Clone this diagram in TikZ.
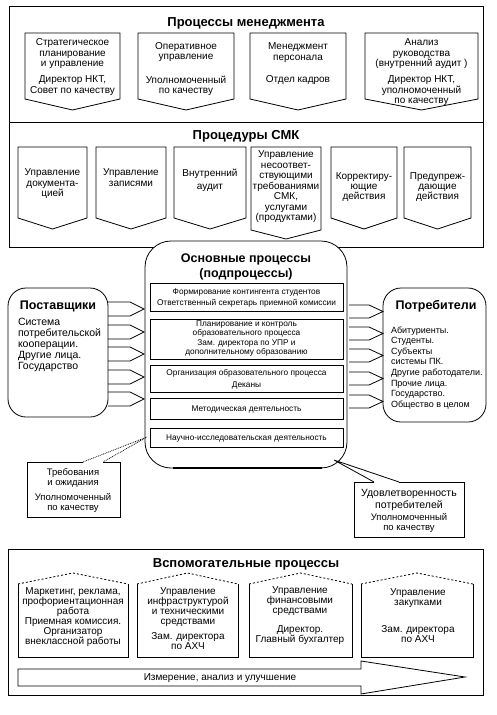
\documentclass[tikz,border=0pt]{standalone}
\usepackage{fontspec}
\setmainfont{Liberation Sans}
\usetikzlibrary{calc}
\newcommand{\dpent}[5]{%
  \draw[ln,fill=white] (#1,#3) -- (#2,#3) -- (#2,#4) -- ({(#1+#2)/2},#5) -- (#1,#4) -- cycle;}
\newcommand{\uhouse}[5]{%
  \draw[ln] (#1,#4) -- (#1,#5) -- (#2,#5) -- (#2,#4);
  \draw[roof] (#1,#4) -- ({(#1+#2)/2},#3) -- (#2,#4);}
\begin{document}
\begin{tikzpicture}[x=1pt,y=-1pt,
  every node/.style={inner sep=0pt,outer sep=0pt},
  ln/.style={draw=black,line width=0.8pt},
  roof/.style={draw=black,line width=0.8pt,dash pattern=on 2pt off 2pt},
  ttl/.style={font=\fontsize{13}{15}\selectfont\bfseries,anchor=base},
  sttl/.style={font=\fontsize{12.5}{15}\selectfont\bfseries,align=center},
  bx/.style={font=\fontsize{10}{10.5}\selectfont,align=center,anchor=north},
  inr/.style={font=\fontsize{8.3}{9.5}\selectfont,align=center,anchor=north},
  blk/.style={draw=black,line width=0.8pt}]
\useasboundingbox (0,0) rectangle (496,715);
\fill[white] (0,0) rectangle (496,715);

% ---------------- management
\draw[ln] (9,6) rectangle (483,122);
\node[ttl] (mt) at (246,26.7) {Процессы менеджмента};
\dpent{25}{120}{33}{99}{110}
\dpent{138}{234}{33}{99}{110}
\dpent{250}{346}{33}{99}{110}
\dpent{365}{478}{33}{99}{110}
\node[bx] (m1a) at (72.5,39) {Стратегическое\\планирование\\и управление};
\node[bx] (m1b) at (72.5,76) {Директор НКТ,\\Совет по качеству};
\node[bx] (m2a) at (186,42.5) {Оперативное\\управление};
\node[bx] (m2b) at (186,76) {Уполномоченный\\по качеству};
\node[bx] (m3a) at (298,43) {Менеджмент\\персонала};
\node[bx] (m3b) at (298,76) {Отдел кадров};
\node[bx] (m4a) at (421.5,39) {Анализ\\руководства\\(внутренний аудит )};
\node[bx] (m4b) at (421.5,76) {Директор НКТ,\\уполномоченный\\по качеству};

% ---------------- SMK procedures
\draw[ln] (9,122) rectangle (483,247);
\node[ttl] (st) at (246,139.7) {Процедуры СМК};
\dpent{18}{87}{147}{218}{229}
\dpent{96}{166}{147}{218}{229}
\dpent{174}{246}{147}{218}{229}
\dpent{251}{321}{147}{230}{239}
\dpent{331}{397}{147}{218}{229}
\dpent{404}{471}{147}{218}{229}
\node[bx] (s1) at (52.5,169) {Управление\\документа-\\цией};
\node[bx] (s2) at (131,169) {Управление\\записями};
\node[bx,font=\fontsize{10}{13}\selectfont] (s3) at (210,169) {Внутренний\\аудит};
\node[bx] (s4) at (286,151) {Управление\\несоответ-\\ствующими\\требованиями\\СМК,\\услугами\\(продуктами)};
\node[bx,font=\fontsize{10}{9.6}\selectfont] (s5) at (364,173) {Корректиру-\\ющие\\действия};
\node[bx,font=\fontsize{10}{9.6}\selectfont] (s6) at (437.5,173) {Предупреж-\\дающие\\действия};

% ---------------- main processes
\node[ln,fill=white,rounded corners=26pt,minimum width=202pt,minimum height=227pt] (main) at (246,354.5) {};
\draw[line width=1.8pt] (173,468) -- (322,468);
\node[sttl,anchor=north] (mainT) at (246,253.5) {Основные процессы\\(подпроцессы)};
\draw[ln] (150,283) rectangle (343,311);
\draw[ln] (150,319) rectangle (343,359);
\draw[ln] (150,365) rectangle (343,392);
\draw[ln] (150,398) rectangle (343,419);
\draw[ln] (150,428) rectangle (343,447);
\node[inr,font=\fontsize{8.3}{11}\selectfont] (pA) at (246.5,288.7) {Формирование контингента студентов\\Ответственный секретарь приемной комиссии};
\node[inr] (pB) at (246.5,320.7) {Планирование и контроль\\образовательного процесса\\Зам. директора по УПР и\\дополнительному образованию};
\node[inr,font=\fontsize{8.3}{12}\selectfont] (pC) at (246.5,369.7) {Организация образовательного процесса\\Деканы};
\node[inr] (pD) at (246.5,406) {Методическая деятельность};
\node[inr] (pE) at (246.5,434.7) {Научно-исследовательская деятельность};

% ---------------- suppliers
\node[ln,rounded corners=18pt,minimum width=100pt,minimum height=129pt] (sup) at (58,352.5) {};
\node[sttl,anchor=base] (supT) at (58,309.3) {Поставщики};
\node[font=\fontsize{10.5}{11.1}\selectfont,align=left,anchor=north west] (supX) at (18,318) {Система\\потребительской\\кооперации.\\Другие лица.\\Государство};

% ---------------- consumers
\node[ln,rounded corners=18pt,minimum width=103pt,minimum height=134pt] (con) at (434.5,355) {};
\node[sttl,anchor=base] (conT) at (436,309.3) {Потребители};
\node[font=\fontsize{9}{10.6}\selectfont,align=left,anchor=north west] (conX) at (391,326.5) {Абитуриенты.\\Студенты.\\Субъекты\\системы ПК.\\Другие работодатели.\\Прочие лица.\\Государство.\\Общество в целом};

% ---------------- block arrows suppliers -> main
\foreach \t in {302,325,347,370,392}{
  \draw[blk] (sup.east |- 0,\t) -- ($(main.west |- 0,\t)+(-15,0)$) -- ($(main.west |- 0,\t)+(-1,7)$)
     -- ($(main.west |- 0,\t)+(-15,14)$) -- ($(sup.east |- 0,\t)+(0,14)$);
}
% ---------------- block arrows main -> consumers
\foreach \t in {305,327,349,372,395}{
  \draw[blk] ($(main.east |- 0,\t)+(2,0)$) -- ($(con.west |- 0,\t)+(-14,0)$) -- ($(con.west |- 0,\t)+(0,6.5)$)
     -- ($(con.west |- 0,\t)+(-14,13)$) -- ($(main.east |- 0,\t)+(2,13)$);
}

% ---------------- callout left
\coordinate (tipL) at (147,437);
\draw[ln] (83,462) -- (27,462) -- (27,517) -- (120,517) -- (120,462) -- (103,462);
\draw[ln,densely dotted] (83,462) -- (tipL) -- (103,462);
\node[bx,font=\fontsize{9.5}{9.5}\selectfont] (cl1) at (73,469) {Требования\\и ожидания};
\node[bx,font=\fontsize{9.5}{10}\selectfont] (cl2) at (73,493) {Уполномоченный\\по качеству};

% ---------------- callout right
\coordinate (tipR) at (334,460);
\draw[ln] (374,482) -- (354,482) -- (354,537) -- (464,537) -- (464,482) -- (399,482);
\draw[ln] (374,482) -- (tipR) -- (399,482);
\node[bx,font=\fontsize{10.5}{12}\selectfont] (cr1) at (409,489) {Удовлетворенность\\потребителей};
\node[bx,font=\fontsize{9.5}{10}\selectfont] (cr2) at (409,513) {Уполномоченный\\по качеству};

% ---------------- support processes
\draw[ln] (8,549) rectangle (483,695);
\node[ttl] (vt) at (246,567.7) {Вспомогательные процессы};
\uhouse{18}{128}{573}{584}{657}
\uhouse{137}{238}{573}{584}{657}
\uhouse{249}{352}{573}{584}{657}
\uhouse{361}{473}{573}{584}{657}
\node[bx,font=\fontsize{10}{9.8}\selectfont] (h1a) at (73,588) {Маркетинг, реклама,\\профориентационная\\работа};
\node[bx,font=\fontsize{10}{9.8}\selectfont] (h1b) at (73,618) {Приемная комиссия.\\Организатор\\внеклассной работы};
\node[bx,font=\fontsize{10}{9.8}\selectfont] (h2a) at (188,588) {Управление\\инфраструктурой\\и техническими\\средствами};
\node[bx,font=\fontsize{10}{9.8}\selectfont] (h2b) at (188,633) {Зам. директора\\по АХЧ};
\node[bx,font=\fontsize{10}{9.8}\selectfont] (h3a) at (300,587) {Управление\\финансовыми\\средствами};
\node[bx,font=\fontsize{10}{9.8}\selectfont] (h3b) at (300,626) {Директор.\\Главный бухгалтер};
\node[bx,font=\fontsize{10}{9.8}\selectfont] (h4a) at (418,589) {Управление\\закупками};
\node[bx,font=\fontsize{10}{9.8}\selectfont] (h4b) at (418,626) {Зам. директора\\по АХЧ};

% ---------------- big arrow
\draw[ln] (18,669) -- (361,669) -- (361,661) -- (465,677) -- (361,694) -- (361,686) -- (18,686) -- cycle;
\node[font=\fontsize{10}{12}\selectfont,anchor=base] (meas) at (220,680.6) {Измерение, анализ и улучшение};
\end{tikzpicture}
\end{document}
